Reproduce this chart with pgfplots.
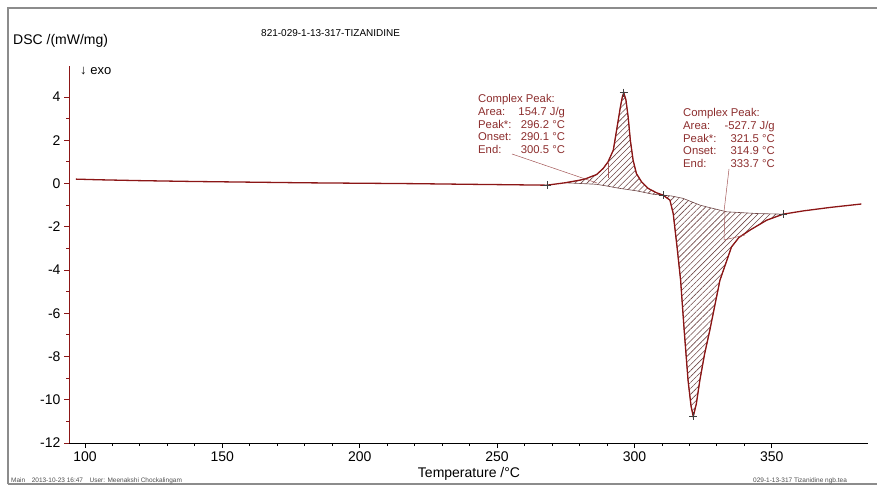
\documentclass[border=0pt]{standalone}
\usepackage{pgfplots}
\pgfplotsset{compat=1.18}
\usepackage{fontspec}
\setmainfont{Liberation Sans}
\usetikzlibrary{patterns.meta}
\definecolor{curve}{RGB}{140,22,22}
\definecolor{annot}{RGB}{140,45,45}
\definecolor{hatch}{RGB}{110,70,70}
\definecolor{framec}{RGB}{140,140,140}
\begin{document}
\begin{tikzpicture}[x=1pt,y=1pt]
\begin{axis}[
  at={(69pt,42pt)}, anchor=south west,
  scale only axis, width=799pt, height=377pt,
  xmin=94.2, xmax=385, ymin=-12, ymax=5.43,
  axis x line*=bottom, axis y line*=left,
  x axis line style={black, line width=1pt},
  y axis line style={curve, line width=1pt},
  xtick={100,150,...,350}, minor x tick num=4,
  ytick={-12,-10,...,4}, minor y tick num=1,
  tick align=outside,
  major tick length=5pt, minor tick length=3pt,
  x tick style={black, line width=0.8pt},
  y tick style={curve, line width=0.8pt},
  tick label style={font=\fontsize{14}{16}\selectfont},
  /pgf/number format/assume math mode=true,
  clip=false,
]
% hatched area, exothermic peak
\addplot[draw=hatch, line width=0.6pt, pattern={Lines[angle=45,distance=4.2pt,line width=0.6pt]}, pattern color=hatch] coordinates {
 (274.7,0.03) (280.1,0.15) (282.5,0.23) (286.2,0.41) (288.6,0.69) (290.4,1.0) (292.3,1.54) (293.7,2.62) (294.9,3.55) (295.6,4.01) (296.1,4.2)
 (296.9,3.86) (297.7,3.08) (298.5,2.0) (299.5,1.08) (300.7,0.46) (302.6,0.07) (305.0,-0.23) (308.0,-0.43) (310.4,-0.54)
 (306.8,-0.5) (300.7,-0.34) (294.7,-0.23) (290,-0.12) (286.2,-0.04) (280,0.0) (274.7,0.03)
};
% hatched area, endothermic peak
\addplot[draw=hatch, line width=0.6pt, pattern={Lines[angle=45,distance=4.2pt,line width=0.6pt]}, pattern color=hatch] coordinates {
 (310.4,-0.54) (312.9,-0.77) (314.1,-1.39) (315.5,-2.94) (316.8,-4.48) (318.1,-6.8) (319.5,-9.1) (320.6,-10.3) (321.4,-10.77)
 (322.5,-10.2) (323.8,-9.1) (325.5,-7.9) (327.4,-6.8) (331.1,-4.48) (335.3,-2.94) (338,-2.5) (342,-2.16) (348.1,-1.70) (354.1,-1.42)
 (344.4,-1.39) (333.5,-1.31) (326.2,-1.08) (323.8,-1.0) (317.7,-0.69) (313.5,-0.58) (310.4,-0.54)
};
% DSC curve
\addplot[curve, line width=1.3pt] coordinates {
 (96.7,0.20) (105,0.17) (120,0.13) (140,0.09) (160,0.06) (180,0.03) (200,0.01) (220,-0.01) (240,-0.04) (255,-0.06) (268.1,-0.08)
 (274.7,0.03) (280.1,0.15) (282.5,0.23) (286.2,0.41) (288.6,0.69) (290.4,1.0) (292.3,1.54) (293.7,2.62) (294.9,3.55) (295.6,4.01) (296.1,4.2)
 (296.9,3.86) (297.7,3.08) (298.5,2.0) (299.5,1.08) (300.7,0.46) (302.6,0.07) (305.0,-0.23) (308.0,-0.43) (310.4,-0.54)
 (312.9,-0.77) (314.1,-1.39) (315.5,-2.94) (316.8,-4.48) (318.1,-6.8) (319.5,-9.1) (320.6,-10.3) (321.4,-10.77)
 (322.5,-10.2) (323.8,-9.1) (325.5,-7.9) (327.4,-6.8) (331.1,-4.48) (335.3,-2.94) (338,-2.5) (342,-2.16) (348.1,-1.70) (354.1,-1.42)
 (361.4,-1.27) (371.1,-1.11) (382.6,-0.95)
};
% marks
\addplot[only marks, mark=+, mark size=4pt, mark options={black!75, line width=0.6pt}] coordinates {
 (268.1,-0.08) (296.1,4.2) (310.4,-0.54) (321.4,-10.77) (354.1,-1.42)
};
\end{axis}
% frame
\draw[framec, line width=1.4pt] (8,1) -- (8,477) -- (877,477);
\draw[framec, line width=1.4pt] (8,1) -- (877,1);
% texts
\node[anchor=base west, inner sep=0] at (13,440) {\fontsize{14}{16}\selectfont DSC /(mW/mg)};
\node[anchor=base west, inner sep=0] at (261,448.5) {\fontsize{10}{12}\selectfont 821-029-1-13-317-TIZANIDINE};
\node[anchor=base west, inner sep=0] at (80,410) {\fontsize{13}{15}\selectfont ↓ exo};
\node[anchor=base, inner sep=0] at (469,8) {\fontsize{14}{16}\selectfont Temperature /°C};
\node[anchor=base west, inner sep=0, text=black!70] at (11,2.5) {\fontsize{6.5}{8}\selectfont Main\quad 2013-10-23 16:47\quad User: Meenakshi Chockalingam};
\node[anchor=base west, inner sep=0, text=black!70] at (753,2.5) {\fontsize{6.5}{8}\selectfont 029-1-13-317 Tizanidine ngb.tea};
% annotation blocks
\node[anchor=base west, inner sep=0, text=annot] at (478,382) {\fontsize{11.3}{12.6}\selectfont
 \begin{tabular}[t]{@{}l@{\hspace{7pt}}r@{}}
 \multicolumn{2}{@{}l@{}}{Complex Peak:}\\
 Area: & 154.7 J/g\\
 Peak*: & 296.2 °C\\
 Onset: & 290.1 °C\\
 End: & 300.5 °C
 \end{tabular}};
\node[anchor=base west, inner sep=0, text=annot] at (683,368) {\fontsize{11.3}{12.6}\selectfont
 \begin{tabular}[t]{@{}l@{\hspace{8pt}}r@{}}
 \multicolumn{2}{@{}l@{}}{Complex Peak:}\\
 Area: & -527.7 J/g\\
 Peak*: & 321.5 °C\\
 Onset: & 314.9 °C\\
 End: & 333.7 °C
 \end{tabular}};
% pointer lines
\draw[annot!80, line width=0.5pt] (512,331) -- (597,302);
\draw[annot!80, line width=0.5pt] (608,322) -- (608,307);
\draw[annot!80, line width=0.5pt] (729,316) -- (724,273.5);
\draw[annot!80, line width=0.5pt] (725,273.5) -- (724,245) -- (745,250);
\pgfresetboundingbox
\useasboundingbox (0,0) rectangle (877,485);
\end{tikzpicture}
\end{document}
